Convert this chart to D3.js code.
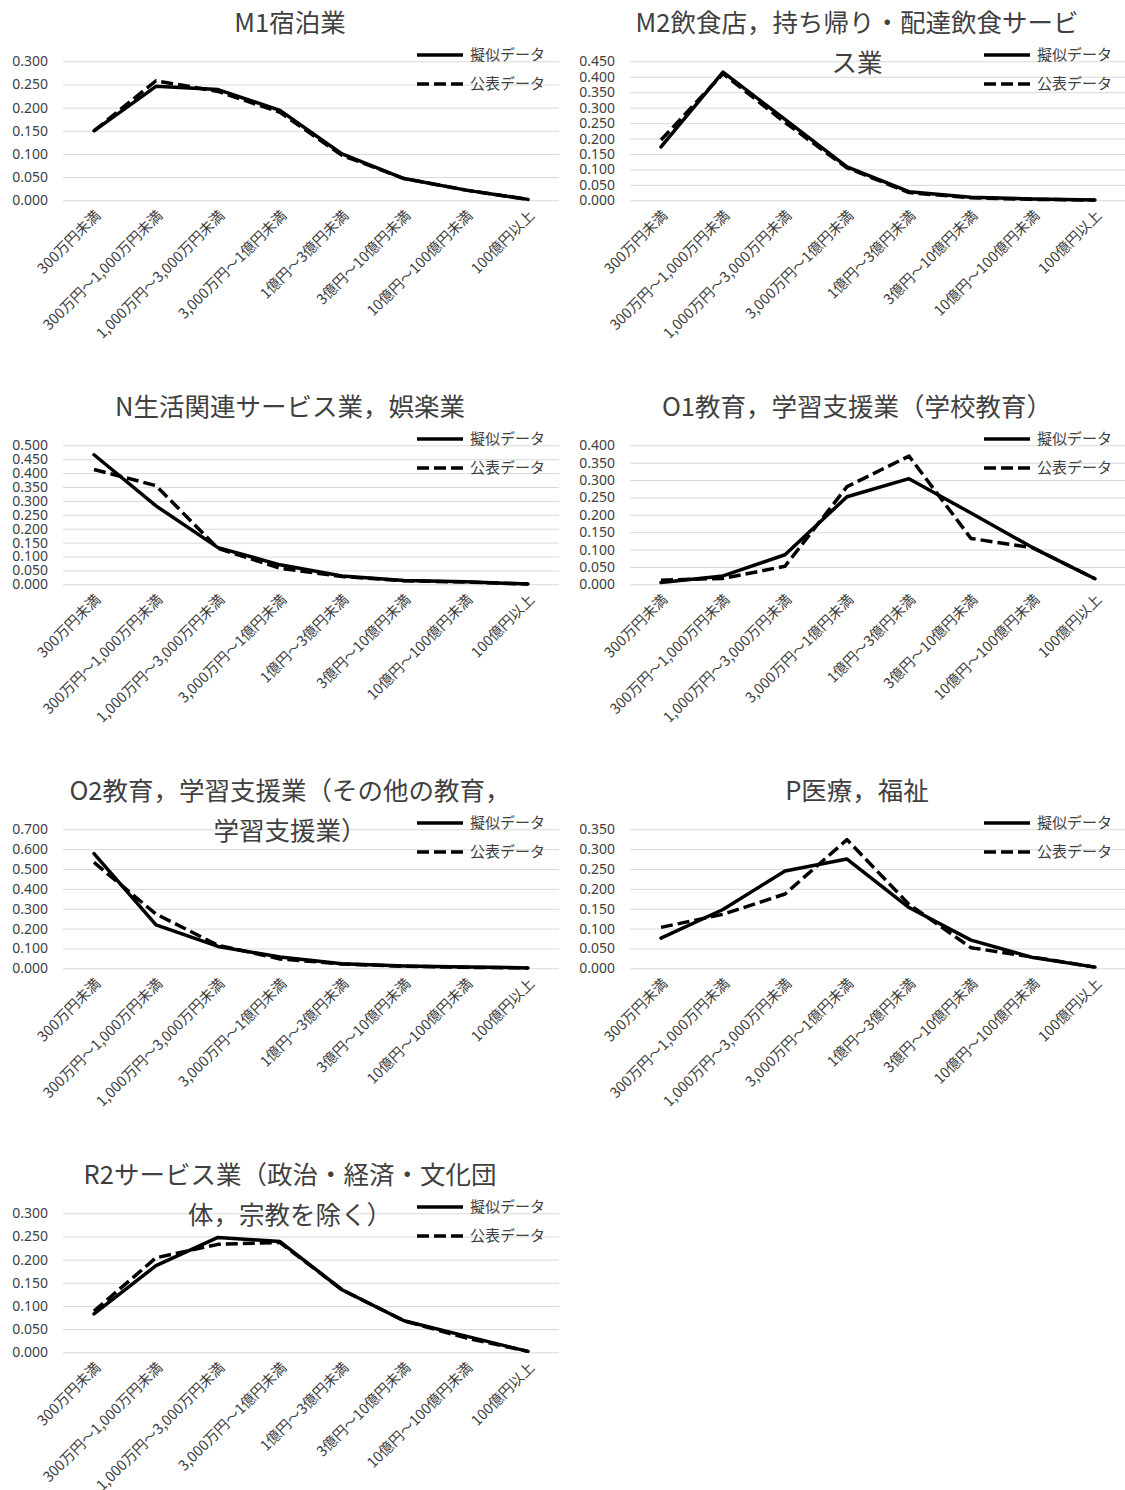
<!DOCTYPE html>
<html>
<head>
<meta charset="utf-8">
<script src="https://cdn.jsdelivr.net/npm/d3@7"></script>
<style>
body { margin:0; background:#fff; }
text { font-family: "Noto Sans CJK JP", "Noto Sans", sans-serif; fill:#404040; }
.num { font-family: "Noto Sans", "Noto Sans CJK JP", sans-serif; }
</style>
</head>
<body>
<div id="chart"></div>
<script>
// categories (x axis)
var categories = ["300万円未満","300万円～1,000万円未満","1,000万円～3,000万円未満","3,000万円～1億円未満",
  "1億円～3億円未満","3億円～10億円未満","10億円～100億円未満","100億円以上"];

var seriesNames = ["擬似データ","公表データ"];

// titles, split where the original wraps
var titles = [
  ["M1宿泊業"],
  ["M2飲食店，持ち帰り・配達飲食サービ","ス業"],
  ["N生活関連サービス業，娯楽業"],
  ["O1教育，学習支援業（学校教育）"],
  ["O2教育，学習支援業（その他の教育，","学習支援業）"],
  ["P医療，福祉"],
  ["R2サービス業（政治・経済・文化団","体，宗教を除く）"]
];

// values
var m1Sim = [0.150,0.246,0.239,0.194,0.100,0.047,0.022,0.002];
var m1Pub = [0.150,0.258,0.235,0.190,0.097,0.047,0.022,0.002];
var m2Sim = [0.173,0.415,0.262,0.108,0.028,0.010,0.004,0.001];
var m2Pub = [0.195,0.410,0.252,0.105,0.025,0.008,0.003,0.001];
var nSim  = [0.466,0.282,0.132,0.070,0.030,0.014,0.009,0.001];
var nPub  = [0.413,0.355,0.129,0.058,0.028,0.013,0.008,0.001];
var o1Sim = [0.005,0.024,0.085,0.252,0.304,0.205,0.105,0.016];
var o1Pub = [0.012,0.017,0.052,0.281,0.369,0.132,0.105,0.016];
var o2Sim = [0.578,0.219,0.110,0.057,0.023,0.012,0.007,0.002];
var o2Pub = [0.533,0.273,0.116,0.047,0.022,0.010,0.005,0.002];
var pSim  = [0.076,0.148,0.245,0.275,0.153,0.071,0.027,0.003];
var pPub  = [0.103,0.136,0.187,0.324,0.161,0.052,0.028,0.003];
var r2Sim = [0.083,0.187,0.248,0.239,0.135,0.068,0.035,0.002];
var r2Pub = [0.089,0.204,0.233,0.237,0.135,0.068,0.031,0.002];

// y axis: max value and tick step per panel
var yMaxes = [0.30,0.45,0.50,0.40,0.70,0.35,0.30];
var ySteps = [0.05,0.05,0.05,0.05,0.10,0.05,0.05];

var simData = [m1Sim,m2Sim,nSim,o1Sim,o2Sim,pSim,r2Sim];
var pubData = [m1Pub,m2Pub,nPub,o1Pub,o2Pub,pPub,r2Pub];

var W = 1125, H = 1490;
var svg = d3.select("#chart").append("svg").attr("width",W).attr("height",H);
svg.append("rect").attr("width",W).attr("height",H).attr("fill","#fff");

var x = d3.scaleBand().domain(categories).range([63,559]).paddingInner(0).paddingOuter(0);
var cx = function(d,i){ return x(categories[i]) + x.bandwidth()/2; };

titles.forEach(function(t,k){
  var col = k % 2, row = Math.floor(k/2);
  var g = svg.append("g").attr("transform","translate("+(col*567)+","+(row*384)+")");

  var y = d3.scaleLinear().domain([0,yMaxes[k]]).range([200.3,61.3]);
  var ticks = d3.range(0, yMaxes[k] + ySteps[k]/2, ySteps[k]);

  // gridlines + y labels
  var ax = g.append("g").attr("transform","translate(63,0)")
    .call(d3.axisLeft(y).tickValues(ticks).tickFormat(d3.format(".3f")).tickSize(-496).tickPadding(15));
  ax.select(".domain").remove();
  ax.selectAll("line").attr("stroke","#d9d9d9").attr("stroke-width",1);
  ax.selectAll("text").attr("class","num").style("font-size","14px").attr("fill","#262626");

  // x labels rotated
  g.selectAll(".xl").data(categories).enter().append("text")
    .attr("class","xl")
    .attr("transform",function(d,i){ return "translate("+(cx(d,i)+4)+",213) rotate(-45)"; })
    .attr("text-anchor","end").attr("dy","0.35em")
    .style("font-size","14.5px").attr("fill","#404040")
    .text(function(d){ return d; });

  var line = d3.line().x(cx).y(function(d){ return y(d); });

  g.append("path").datum(simData[k]).attr("d",line)
    .attr("fill","none").attr("stroke","#000").attr("stroke-width",3.5)
    .attr("stroke-linejoin","round").attr("stroke-linecap","round");
  g.append("path").datum(pubData[k]).attr("d",line)
    .attr("fill","none").attr("stroke","#000").attr("stroke-width",3.5)
    .attr("stroke-dasharray","12,5").attr("stroke-linejoin","round");

  // title
  t.forEach(function(s,j){
    g.append("text").attr("x",290).attr("y",23 + j*40).attr("dy","0.35em")
      .attr("text-anchor","middle").style("font-size","25.5px").attr("fill","#000")
      .text(s);
  });

  // legend
  seriesNames.forEach(function(s,j){
    var ly = 55 + j*29;
    g.append("line").attr("x1",417).attr("x2",463).attr("y1",ly).attr("y2",ly)
      .attr("stroke","#000").attr("stroke-width",3.5)
      .attr("stroke-dasharray", j==1 ? "12,5" : null);
    g.append("text").attr("x",470).attr("y",ly).attr("dy","0.35em")
      .style("font-size","15px").attr("fill","#404040").text(s);
  });
});
</script>
</body>
</html>
